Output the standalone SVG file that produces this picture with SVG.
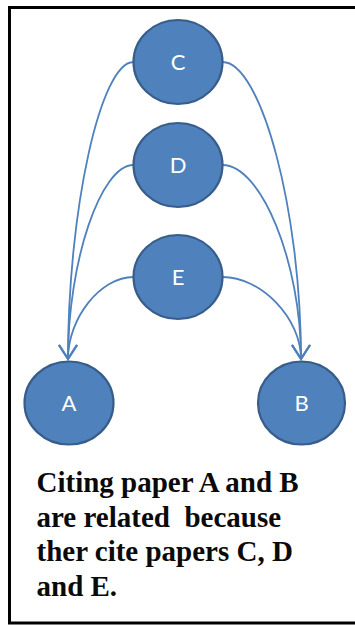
<svg xmlns="http://www.w3.org/2000/svg" width="355" height="626" viewBox="0 0 355 626">
  <defs>
    <style>
      .node ellipse { fill: #4F81BD; stroke: #385D8A; stroke-width: 2.2; }
      .node text { font-family: Lato, "Open Sans", "DejaVu Sans", sans-serif; font-size: 22px; fill: #FFFFFF; text-anchor: middle; }
      .edge { fill: none; stroke: #4F81BD; stroke-width: 1.8; marker-end: url(#arrow); }
      .caption { font-family: "Liberation Serif", "Times New Roman", serif; font-weight: bold; font-size: 29px; fill: #0A0A0A; white-space: pre; }
    </style>
    <marker id="arrow" markerUnits="userSpaceOnUse" markerWidth="30" markerHeight="30" refX="0" refY="0" viewBox="-20 -15 30 30" orient="auto" overflow="visible">
      <path d="M -14,-9 L 0,0 L -14,9" fill="none" stroke="#4F81BD" stroke-width="2"/>
    </marker>
  </defs>

  <rect x="9.5" y="7.5" width="370" height="615.5" fill="#FFFFFF" stroke="#000000" stroke-width="3"/>

  <g id="connectors">
    <path class="edge" d="M 133.5,62 C 100.5,62 68,210 68,359"/>
    <path class="edge" d="M 133.5,165 C 100.5,165 68,262 68,359"/>
    <path class="edge" d="M 133.5,277 C 100.5,277 68,318 68,359"/>
    <path class="edge" d="M 222.5,62 C 261,62 301,210 301,359"/>
    <path class="edge" d="M 222.5,165 C 261,165 301,262 301,359"/>
    <path class="edge" d="M 222.5,277 C 261,277 301,318 301,359"/>
  </g>

  <g id="node-C" class="node">
    <ellipse cx="178" cy="62" rx="44.5" ry="42"/>
    <text x="178" y="70">C</text>
  </g>
  <g id="node-D" class="node">
    <ellipse cx="178" cy="165" rx="44.5" ry="42"/>
    <text x="178" y="173">D</text>
  </g>
  <g id="node-E" class="node">
    <ellipse cx="178" cy="277" rx="44.5" ry="42"/>
    <text x="178" y="285">E</text>
  </g>
  <g id="node-A" class="node">
    <ellipse cx="69" cy="403" rx="44.5" ry="41.5"/>
    <text x="69" y="411">A</text>
  </g>
  <g id="node-B" class="node">
    <ellipse cx="301.5" cy="403" rx="43.5" ry="41.5"/>
    <text x="301.5" y="411">B</text>
  </g>

  <g id="caption" class="caption">
    <text x="36.5" y="492" xml:space="preserve">Citing paper A and B</text>
    <text x="36.5" y="526.7" xml:space="preserve">are related  because</text>
    <text x="36.5" y="561.4" xml:space="preserve">ther cite papers C, D</text>
    <text x="36.5" y="596" xml:space="preserve">and E.</text>
  </g>
</svg>
